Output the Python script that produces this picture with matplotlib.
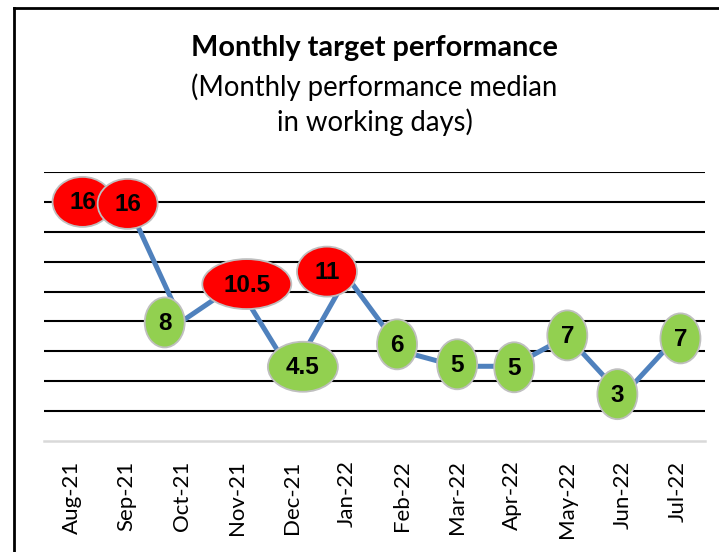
# Monthly target performance line chart
import matplotlib
matplotlib.use('Agg')
import matplotlib.pyplot as plt
from matplotlib.patches import Ellipse
from matplotlib.lines import Line2D
from matplotlib.transforms import ScaledTranslation

months = ['Aug-21', 'Sep-21', 'Oct-21', 'Nov-21', 'Dec-21', 'Jan-22',
          'Feb-22', 'Mar-22', 'Apr-22', 'May-22', 'Jun-22', 'Jul-22']
median_days = [16, 16, 8, 10.5, 4.5, 11, 6, 5, 5, 7, 3, 7]
target = 10  # above target -> red bubble, otherwise green

# label nudges in pixels (dx, dy)
label_dx = [11, 1, -17, 10, 11, -20, -5, 0, 2, 0, -5, 3]
label_dy = [0, -2, -1, 0, 7, 5, 7, 2, -1, 1, 2, -2]
bubble_w = {1: 40, 2: 60, 3: 70, 4: 89}

fig = plt.figure(figsize=(7.19, 5.52), dpi=100)
ax = fig.add_axes([44/719, 1 - 441/552, (705 - 44)/719, (441 - 172)/552])

x = list(range(len(months)))
ax.plot(x, median_days, color='#4F81BD', lw=3.6, zorder=3, solid_capstyle='butt')

for i, v in enumerate(median_days):
    txt = f'{v:g}'
    color = '#FF0000' if v > target else '#92D050'
    tr = fig.dpi_scale_trans + ScaledTranslation(i, v, ax.transData)
    e = Ellipse((label_dx[i] / 100, label_dy[i] / 100), bubble_w[len(txt)] / 100, 0.5,
                transform=tr, facecolor=color, edgecolor='#BFBFBF', lw=1.3,
                zorder=4 + i * 0.01, clip_on=False)
    ax.add_patch(e)
    ax.annotate(txt, (i, v), xytext=(label_dx[i], label_dy[i] - 1),
                textcoords='offset pixels', ha='center', va='center',
                fontsize=17.5, fontweight='bold', family='Liberation Sans',
                zorder=5 + i * 0.01, annotation_clip=False)

ax.set_xlim(-0.5, len(months) - 0.5)
ax.set_ylim(0, 18)
ax.set_yticks(range(2, 19, 2))
ax.yaxis.grid(True, color='black', lw=1.5)
ax.set_axisbelow(True)
ax.tick_params(axis='y', left=False, labelleft=False)
ax.set_xticks(x)
ax.set_xticklabels(months, rotation=90, fontsize=16, family='Lato')
ax.tick_params(axis='x', length=0, pad=14)
for s in ['top', 'right', 'left']:
    ax.spines[s].set_visible(False)
ax.spines['bottom'].set_color('#D9D9D9')
ax.spines['bottom'].set_linewidth(1.8)

cx = 374.5 / 719
fig.text(cx, 1 - 48/552, 'Monthly target performance', ha='center', va='center',
         fontsize=20.8, fontweight='bold', family='Lato')
fig.text(cx, 1 - 87/552, '(Monthly performance median', ha='center', va='center',
         fontsize=19.8, family='Lato')
fig.text(cx, 1 - 122/552, 'in working days)', ha='center', va='center',
         fontsize=19.8, family='Lato')

# chart frame (only top and left edges are visible in the crop)
fig.add_artist(Line2D([14/719, 14/719], [0, 1 - 8/552], color='black', lw=2))
fig.add_artist(Line2D([14/719, 1], [1 - 8/552, 1 - 8/552], color='black', lw=2))

fig.savefig('out.png', dpi=100)
